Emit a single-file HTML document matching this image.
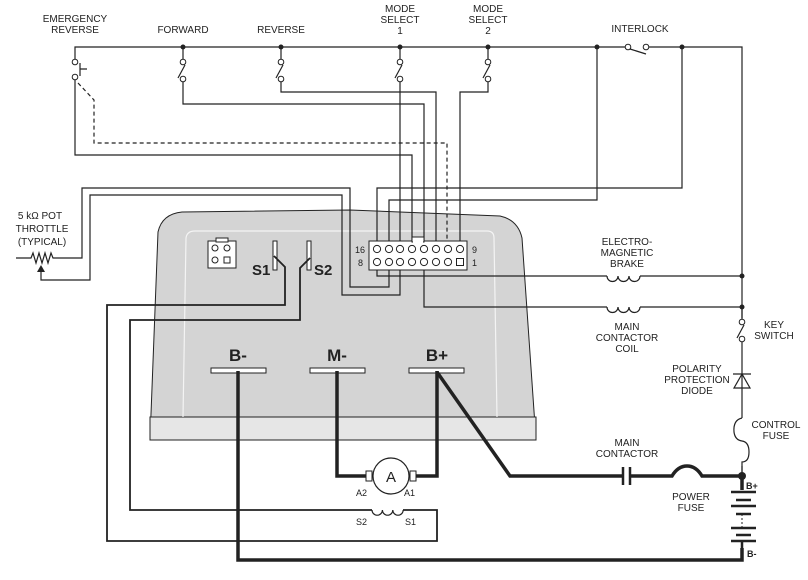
<!DOCTYPE html>
<html><head><meta charset="utf-8"><style>
html,body{margin:0;padding:0;background:#fff}
svg{display:block}
text{font-family:"Liberation Sans",sans-serif;fill:#222}
</style></head><body>
<svg width="808" height="580" viewBox="0 0 808 580" xmlns="http://www.w3.org/2000/svg">
<!-- controller body -->
<path d="M150 440 L158 232 Q162 214 182 212 L350 210 L500 216 Q518 220 522 238 L536 440 Z" fill="#d4d4d4" stroke="#222" stroke-width="1"/>
<rect x="150" y="417" width="386" height="23" fill="#e6e6e6" stroke="#222" stroke-width="1"/>
<path d="M183 417 L186 238 Q187 231 195 231 L487 231 Q494 231 494 238 L497 417" fill="none" stroke="#f4f4f4" stroke-width="1.2"/>
<!-- small connector -->
<rect x="208" y="241" width="28" height="27" fill="#fff" stroke="#222"/>
<rect x="216" y="238" width="12" height="4" fill="#fff" stroke="#222"/>
<circle cx="215" cy="248" r="3" fill="none" stroke="#222"/><circle cx="227" cy="248" r="3" fill="none" stroke="#222"/>
<circle cx="215" cy="260" r="3" fill="none" stroke="#222"/><rect x="224" y="257" width="6" height="6" fill="none" stroke="#222"/>
<!-- S1 S2 -->
<rect x="273" y="241" width="4" height="29" fill="#fff" stroke="#222"/>
<rect x="307" y="241" width="4" height="29" fill="#fff" stroke="#222"/>
<text x="252" y="275" font-size="15" font-weight="bold">S1</text>
<text x="314" y="275" font-size="15" font-weight="bold">S2</text>
<!-- terminals -->
<rect x="211" y="368" width="55" height="5" fill="#fff" stroke="#222"/>
<rect x="310" y="368" width="55" height="5" fill="#fff" stroke="#222"/>
<rect x="409" y="368" width="55" height="5" fill="#fff" stroke="#222"/>
<text x="238" y="361" font-size="17" font-weight="bold" text-anchor="middle">B-</text>
<text x="337" y="361" font-size="17" font-weight="bold" text-anchor="middle">M-</text>
<text x="437" y="361" font-size="17" font-weight="bold" text-anchor="middle">B+</text>

<g fill="none" stroke="#222" stroke-width="1.2">
<!-- top bus -->
<path d="M75 59 L75 47 L628 47 M646 47 L742 47 L742 476"/>
<path d="M630 49 L646 54"/>
<!-- emergency reverse -->
<path d="M75 80 L75 155 L412 155 L412 246"/>
<path d="M80 63 L80 76 M80 69 L87 69"/>
<path d="M78 83 L94 100 L94 143 L447 143 L447 246" stroke-dasharray="4,3"/>
<!-- forward -->
<path d="M183 47 L183 59 M183 82 L183 104 L424 104 L424 246"/>
<path d="M185 65 L178 78"/>
<!-- reverse -->
<path d="M281 47 L281 59 M281 82 L281 92 L436 92 L436 246"/>
<path d="M283 65 L276 78"/>
<!-- mode 1 -->
<path d="M400 47 L400 59 M400 82 L400 246"/>
<path d="M402 65 L395 78"/>
<!-- mode 2 -->
<path d="M488 47 L488 59 M488 82 L488 92 L460 92 L460 246"/>
<path d="M490 65 L483 78"/>
<!-- interlock taps -->
<path d="M682 47 L682 188 L377 188 L377 246"/>
<path d="M597 47 L597 200 L389 200 L389 246"/>
<!-- pot -->
<path d="M16 258 L31 258 L33 253 L36 263 L39 253 L42 263 L45 253 L48 263 L51 253 L53 258 L82 258 L82 188 L350 188 L350 287 L389 287 L389 265"/>
<path d="M41 270 L41 280 L90 280 L90 195 L342 195 L342 295 L400 295 L400 265"/>
<!-- brake and coil -->
<path d="M377 265 L377 276 L607 276 M640 276 L742 276"/>
<path d="M424 265 L424 307 L607 307 M640 307 L742 307"/>
<path d="M607 276 a5.5 5.5 0 0 0 11 0 a5.5 5.5 0 0 0 11 0 a5.5 5.5 0 0 0 11 0"/>
<path d="M607 307 a5.5 5.5 0 0 0 11 0 a5.5 5.5 0 0 0 11 0 a5.5 5.5 0 0 0 11 0"/>
<!-- key switch region (white gap) -->
</g>
<rect x="738" y="318" width="8" height="148" fill="#fff"/>
<g fill="none" stroke="#222" stroke-width="1.2">
<path d="M742 307 L742 319 M742 342 L742 418"/>
<path d="M744 325 L737 338"/>
<path d="M733 374 L751 374 M742 374 L734 388 L750 388 Z"/>
<path d="M742 418 Q733 420 734 432 Q735 440 742 441 Q749 442 749 452 Q749 462 742 462 L742 476"/>
<!-- field loops -->
<path d="M274 256 L285 267 L285 305 L107 305 L107 541 L437 541 L437 510 L403 510" stroke-width="1.8"/>
<path d="M310 258 L300 268 L300 320 L130 320 L130 510 L372 510" stroke-width="1.8"/>
<path d="M372 510 a5.2 5.2 0 0 0 10.4 0 a5.2 5.2 0 0 0 10.4 0 a5.2 5.2 0 0 0 10.4 0"/>
</g>
<!-- switch circles -->
<g fill="#fff" stroke="#222" stroke-width="1">
<circle cx="75" cy="62" r="2.8"/><circle cx="75" cy="77" r="2.8"/>
<circle cx="183" cy="62" r="2.8"/><circle cx="183" cy="79" r="2.8"/>
<circle cx="281" cy="62" r="2.8"/><circle cx="281" cy="79" r="2.8"/>
<circle cx="400" cy="62" r="2.8"/><circle cx="400" cy="79" r="2.8"/>
<circle cx="488" cy="62" r="2.8"/><circle cx="488" cy="79" r="2.8"/>
<circle cx="628" cy="47" r="2.8"/><circle cx="646" cy="47" r="2.8"/>
<circle cx="742" cy="322" r="2.8"/><circle cx="742" cy="339" r="2.8"/>
</g>
<g fill="#222">
<circle cx="183" cy="47" r="2.5"/><circle cx="281" cy="47" r="2.5"/><circle cx="400" cy="47" r="2.5"/>
<circle cx="488" cy="47" r="2.5"/><circle cx="597" cy="47" r="2.5"/><circle cx="682" cy="47" r="2.5"/>
<circle cx="742" cy="276" r="2.5"/><circle cx="742" cy="307" r="2.5"/>
<path d="M41 265 L37 272 L45 272 Z"/>
</g>
<!-- 16 pin connector -->
<rect x="369" y="241" width="98" height="29" fill="#fff" stroke="#222"/>
<rect x="412" y="237" width="12" height="5" fill="#fff" stroke="#222"/>
<rect x="413" y="240" width="10" height="3" fill="#fff"/>
<g fill="#fff" stroke="#222" stroke-width="1">
<circle cx="377" cy="249" r="3.6"/><circle cx="389" cy="249" r="3.6"/><circle cx="400" cy="249" r="3.6"/><circle cx="412" cy="249" r="3.6"/>
<circle cx="424" cy="249" r="3.6"/><circle cx="436" cy="249" r="3.6"/><circle cx="448" cy="249" r="3.6"/><circle cx="460" cy="249" r="3.6"/>
<circle cx="377" cy="262" r="3.6"/><circle cx="389" cy="262" r="3.6"/><circle cx="400" cy="262" r="3.6"/><circle cx="412" cy="262" r="3.6"/>
<circle cx="424" cy="262" r="3.6"/><circle cx="436" cy="262" r="3.6"/><circle cx="448" cy="262" r="3.6"/>
<rect x="456.5" y="258.5" width="7" height="7"/>
</g>
<text x="355" y="253" font-size="9">16</text><text x="358" y="266" font-size="9">8</text>
<text x="472" y="253" font-size="9">9</text><text x="472" y="266" font-size="9">1</text>
<!-- heavy power wiring -->
<g fill="none" stroke="#222" stroke-width="3.5">
<path d="M238 371 L238 560 L742 560 L742 548"/>
<path d="M337 371 L337 476 L372 476"/>
<path d="M437 371 L437 476 L410 476"/>
<path d="M437 372 L510 476 L622 476 M630 476 L672 476 Q678 466 687 466 Q696 466 702 476 L742 476 L742 490"/>
</g>
<g stroke="#222" stroke-width="2.5">
<path d="M623 467 L623 485 M630 467 L630 485"/>
<path d="M731 492 L756 492 M736 500 L751 500 M731 506 L756 506 M736 514 L751 514 M731 528 L756 528 M736 535 L751 535 M731 541 L756 541 M742 541 L742 548"/>
</g>
<path d="M742 514 L742 528" stroke="#222" stroke-width="1" stroke-dasharray="2,2"/>
<circle cx="742" cy="476" r="4" fill="#222"/>
<!-- motor -->
<rect x="366" y="471" width="6" height="10" fill="#fff" stroke="#222"/>
<rect x="410" y="471" width="6" height="10" fill="#fff" stroke="#222"/>
<circle cx="391" cy="476" r="18" fill="#fff" stroke="#222" stroke-width="1.2"/>
<text x="391" y="482" font-size="15" text-anchor="middle">A</text>
<g font-size="9">
<text x="356" y="496">A2</text><text x="404" y="496">A1</text>
<text x="356" y="525">S2</text><text x="405" y="525">S1</text>
<text x="746" y="489" font-weight="bold">B+</text>
<text x="747" y="557" font-weight="bold">B-</text>
</g>
<g font-size="10" text-anchor="middle">
<text x="75" y="22">EMERGENCY</text><text x="75" y="33">REVERSE</text>
<text x="183" y="33">FORWARD</text>
<text x="281" y="33">REVERSE</text>
<text x="400" y="12">MODE</text><text x="400" y="23">SELECT</text><text x="400" y="34">1</text>
<text x="488" y="12">MODE</text><text x="488" y="23">SELECT</text><text x="488" y="34">2</text>
<text x="640" y="32">INTERLOCK</text>
<text x="40" y="219">5 kΩ POT</text><text x="42" y="232">THROTTLE</text><text x="42" y="245">(TYPICAL)</text>
<text x="627" y="245">ELECTRO-</text><text x="627" y="256">MAGNETIC</text><text x="627" y="267">BRAKE</text>
<text x="627" y="330">MAIN</text><text x="627" y="341">CONTACTOR</text><text x="627" y="352">COIL</text>
<text x="774" y="328">KEY</text><text x="774" y="339">SWITCH</text>
<text x="697" y="372">POLARITY</text><text x="697" y="383">PROTECTION</text><text x="697" y="394">DIODE</text>
<text x="776" y="428">CONTROL</text><text x="776" y="439">FUSE</text>
<text x="627" y="446">MAIN</text><text x="627" y="457">CONTACTOR</text>
<text x="691" y="500">POWER</text><text x="691" y="511">FUSE</text>
</g>
</svg>
</body></html>
